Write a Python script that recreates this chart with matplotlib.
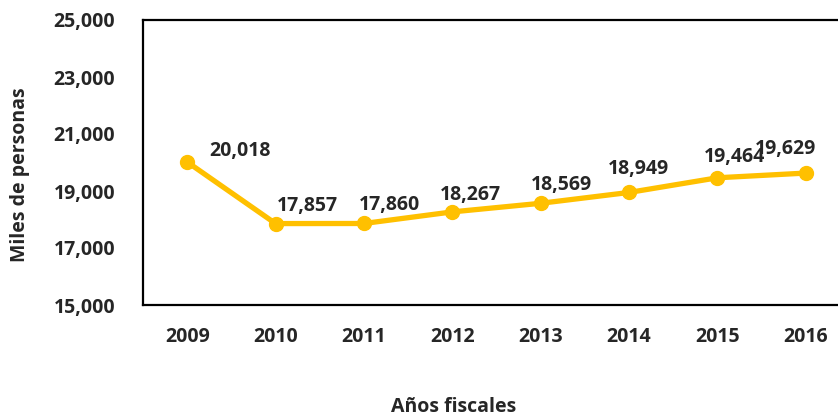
import matplotlib.pyplot as plt
from matplotlib.ticker import FuncFormatter

years = ['2009', '2010', '2011', '2012', '2013', '2014', '2015', '2016']
personas = [20018, 17857, 17860, 18267, 18569, 18949, 19464, 19629]
y_ticks = [15000, 17000, 19000, 21000, 23000, 25000]

# label offsets in points (dx to label left edge, dy to label centre)
offsets = [(16, 8), (1, 13), (-4, 13), (-9, 12), (-7, 13), (-15, 17), (-10, 15), (-37, 17)]

plt.rcParams['font.family'] = ['Open Sans', 'DejaVu Sans']
plt.rcParams['font.weight'] = 'bold'
txt = '#262626'
gold = '#FFC000'
fs = 14

fig = plt.figure(figsize=(8.38, 4.17), dpi=100)
ax = fig.add_axes([143 / 838, 1 - 305 / 417, 707 / 838, 285 / 417])

x = list(range(len(years)))
ax.plot(x, personas, color=gold, lw=3.8, marker='o', ms=10, clip_on=False, zorder=3)

for i, v in enumerate(personas):
    ax.annotate(f'{v:,}', (x[i], v), xytext=offsets[i], textcoords='offset points',
                ha='left', va='center', fontsize=fs, fontweight='bold', color=txt, zorder=4)

ax.set_xlim(-0.5, len(years) - 0.5)
ax.set_ylim(15000, 25000)
ax.set_xticks(x)
ax.set_xticklabels(years)
ax.set_yticks(y_ticks)
ax.yaxis.set_major_formatter(FuncFormatter(lambda v, p: f'{int(v):,}'))
ax.tick_params(axis='both', length=0, labelsize=fs, colors=txt)
ax.tick_params(axis='y', pad=20)
ax.tick_params(axis='x', pad=16)
for s in ax.spines.values():
    s.set_linewidth(1.6)
    s.set_color('black')

fig.text(20 / 838, 1 - 175 / 417, 'Miles de personas', rotation=90, ha='center', va='center',
         fontsize=fs, fontweight='bold', color=txt)
fig.text(454 / 838, 1 - 407 / 417, 'Años fiscales', ha='center', va='center',
         fontsize=fs, fontweight='bold', color=txt)

fig.savefig('out.png', dpi=100)
